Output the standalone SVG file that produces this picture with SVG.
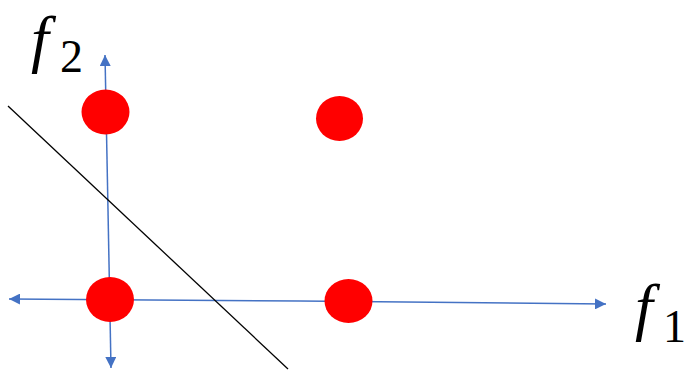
<svg xmlns="http://www.w3.org/2000/svg" width="687" height="370" viewBox="0 0 687 370">
<style>
.ax{stroke:#4472C4;stroke-width:1.5;fill:none}
.pt{fill:#FF0000}
.fi{font-family:"Liberation Serif",serif;font-style:italic;font-size:64px;fill:#000}
.sb{font-family:"Liberation Serif",serif;font-size:46px;fill:#000}
</style>
<defs>
<marker id="ah2" viewBox="0 0 10 10" refX="10" refY="5" markerWidth="11" markerHeight="11" markerUnits="userSpaceOnUse" orient="auto"><path d="M0,0 L10,5 L0,10 z" fill="#4472C4"/></marker>
</defs>
<g id="connectors">
<line class="ax" x1="108" y1="210" x2="105" y2="55" marker-end="url(#ah2)"/>
<line class="ax" x1="108" y1="210" x2="111" y2="368" marker-end="url(#ah2)"/>
<line class="ax" x1="300" y1="301" x2="9" y2="299" marker-end="url(#ah2)"/>
<line class="ax" x1="300" y1="301" x2="606" y2="304" marker-end="url(#ah2)"/>
<line x1="8" y1="106" x2="288" y2="369" stroke="#000" stroke-width="1.3"/>
</g>
<g id="p1"><ellipse class="pt" cx="105.5" cy="112" rx="24" ry="22.5"/></g>
<g id="p2"><ellipse class="pt" cx="339.5" cy="118.5" rx="23.5" ry="22.5"/></g>
<g id="p3"><ellipse class="pt" cx="110" cy="299.5" rx="24" ry="22.5"/></g>
<g id="p4"><ellipse class="pt" cx="348.5" cy="301" rx="24" ry="22"/></g>
<g id="label-f2"><text x="31" y="60" class="fi">f</text><text x="60" y="72" class="sb">2</text></g>
<g id="label-f1"><text x="635" y="328" class="fi">f</text><text x="663" y="342" class="sb">1</text></g>
</svg>
